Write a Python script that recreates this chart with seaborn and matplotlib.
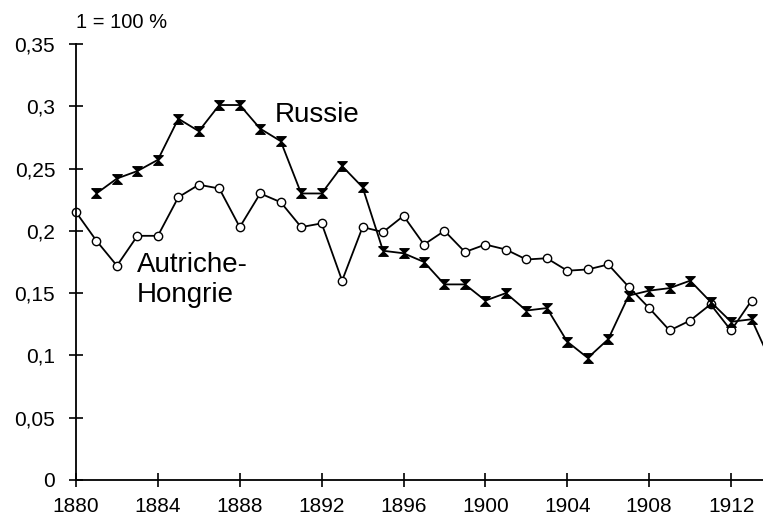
import numpy as np
import pandas as pd
import matplotlib
matplotlib.use("Agg")
import matplotlib.pyplot as plt
from matplotlib.ticker import FuncFormatter
import seaborn as sns

# data (share, 1 = 100 %)
years_russie = list(range(1881, 1915))
russie = [0.230, 0.242, 0.248, 0.257, 0.290, 0.280, 0.301, 0.301, 0.282, 0.272,
          0.230, 0.230, 0.252, 0.235, 0.184, 0.182, 0.175, 0.157, 0.157, 0.144,
          0.150, 0.136, 0.138, 0.111, 0.098, 0.113, 0.148, 0.152, 0.154, 0.160,
          0.143, 0.127, 0.129, 0.093]

years_autriche = list(range(1880, 1914))
autriche = [0.215, 0.192, 0.172, 0.196, 0.196, 0.227, 0.237, 0.234, 0.203, 0.230,
            0.223, 0.203, 0.206, 0.160, 0.203, 0.199, 0.212, 0.189, 0.200, 0.183,
            0.189, 0.185, 0.177, 0.178, 0.168, 0.169, 0.173, 0.155, 0.138, 0.120,
            0.128, 0.141, 0.120, 0.144]

x_ticks = list(range(1880, 1913, 4))
y_ticks = [0, 0.05, 0.1, 0.15, 0.2, 0.25, 0.3, 0.35]

sns.set_style("white")
plt.rcParams["font.family"] = ["Liberation Sans", "DejaVu Sans"]
plt.rcParams["text.color"] = "black"

fig = plt.figure(figsize=(7.63, 5.15), dpi=100)
ax = fig.add_axes([0.0996, 0.068, 0.9004, 0.8466])

# hourglass marker for Russia
hourglass = [(-1, 1), (1, 1), (-1, -1), (1, -1), (-1, 1)]

sns.lineplot(x=years_autriche, y=autriche, ax=ax, color="black", lw=1.3,
             marker="o", markersize=6, markerfacecolor="white",
             markeredgecolor="black", markeredgewidth=1.0, clip_on=False)
sns.lineplot(x=years_russie, y=russie, ax=ax, color="black", lw=1.3,
             marker=hourglass, markersize=7, markerfacecolor="black",
             markeredgecolor="black", markeredgewidth=0.8, clip_on=False)

ax.set_xlim(1880, 1913.56)
ax.set_ylim(0, 0.35)
ax.set_xticks(x_ticks)
ax.set_yticks(y_ticks)
ax.yaxis.set_major_formatter(FuncFormatter(lambda v, p: ("%g" % round(v, 2)).replace(".", ",")))

for side in ["top", "right"]:
    ax.spines[side].set_visible(False)
for side in ["left", "bottom"]:
    ax.spines[side].set_color("black")
    ax.spines[side].set_linewidth(1.3)

ax.tick_params(axis="both", direction="inout", length=10, width=1.2, color="black",
               labelsize=15, labelcolor="black", bottom=True, left=True)
ax.tick_params(axis="y", pad=10)
ax.tick_params(axis="x", pad=7)
ax.set_xlabel("")
ax.set_ylabel("")
ax.grid(False)

ax.text(1880, 0.363, "1 = 100 %", fontsize=14.5, ha="left", va="baseline", color="black")
ax.text(1889.73, 0.2874, "Russie", fontsize=20, ha="left", va="baseline", color="black")
ax.text(1882.98, 0.1672, "Autriche-", fontsize=20, ha="left", va="baseline", color="black")
ax.text(1882.98, 0.1431, "Hongrie", fontsize=20, ha="left", va="baseline", color="black")

fig.savefig("out.png", dpi=100)
